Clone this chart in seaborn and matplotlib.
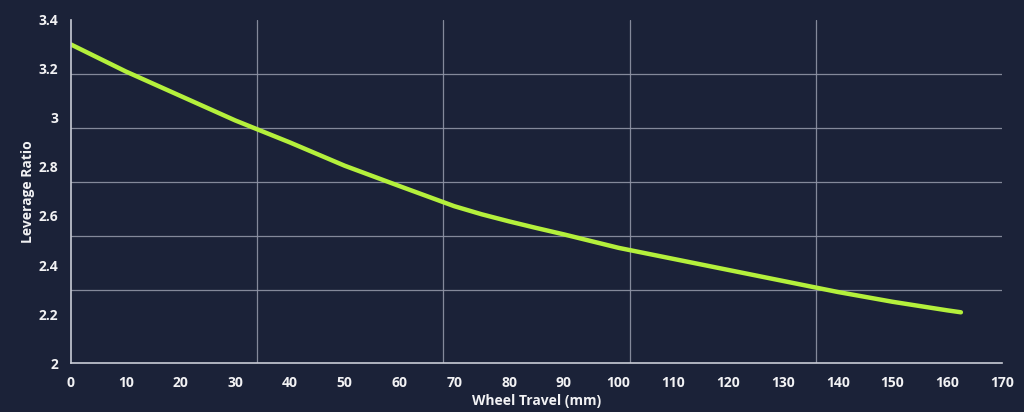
import numpy as np
import pandas as pd
import matplotlib
matplotlib.use("Agg")
import matplotlib.pyplot as plt
import seaborn as sns
from matplotlib.ticker import FixedLocator, FormatStrFormatter

# values
wheel_travel = [0, 10, 20, 30, 40, 50, 60, 65, 70, 75, 80, 85, 90, 100, 110, 120,
                130, 140, 150, 160, 162.5]
leverage = [3.30, 3.19, 3.09, 2.99, 2.90, 2.805, 2.722, 2.681, 2.640, 2.607, 2.578,
            2.551, 2.525, 2.47, 2.425, 2.38, 2.335, 2.29, 2.25, 2.215, 2.207]

x_ticks = [0, 10, 20, 30, 40, 50, 60, 70, 80, 90, 100, 110, 120, 130, 140, 150, 160, 170]
y_ticks = [2, 2.2, 2.4, 2.6, 2.8, 3, 3.2, 3.4]
# the grid in the reference does not sit on the tick labels
x_grid = [0, 34, 68, 102, 136, 170]
y_grid = [3.4, 3.18, 2.96, 2.74, 2.52, 2.30]

bg = "#1b2238"
line_col = "#b4f03c"
text_col = "#f2f2f4"

sns.set_style("dark")
plt.rcParams["font.family"] = ["Open Sans", "DejaVu Sans"]

df = pd.DataFrame({"travel": wheel_travel, "ratio": leverage})

fig = plt.figure(figsize=(10.24, 4.12), dpi=100, facecolor=bg)
ax = fig.add_axes([0.0693, 0.1189, 0.9092, 0.8326])
ax.set_facecolor(bg)

sns.lineplot(data=df, x="travel", y="ratio", color=line_col, linewidth=3.2,
             ax=ax, solid_capstyle="round", solid_joinstyle="round")

ax.set_xlim(0, 170)
ax.set_ylim(2, 3.4)

ax.xaxis.set_major_locator(FixedLocator(x_ticks))
ax.yaxis.set_major_locator(FixedLocator(y_ticks))
ax.yaxis.set_major_formatter(FormatStrFormatter("%g"))
ax.xaxis.set_minor_locator(FixedLocator(x_grid))
ax.yaxis.set_minor_locator(FixedLocator(y_grid))

ax.grid(False, which="major")
ax.grid(True, which="minor", color="#9095a6", linewidth=0.9, alpha=0.9)
ax.tick_params(which="both", length=0)
ax.tick_params(axis="x", pad=9, labelsize=10, labelcolor=text_col)
ax.tick_params(axis="y", pad=9, labelsize=10, labelcolor=text_col)
for lab in ax.get_xticklabels() + ax.get_yticklabels():
    lab.set_fontweight("bold")

for side in ["top", "right"]:
    ax.spines[side].set_visible(False)
for side in ["left", "bottom"]:
    ax.spines[side].set_visible(True)
    ax.spines[side].set_color("#c9ccd6")
    ax.spines[side].set_linewidth(1.2)

ax.set_xlabel("Wheel Travel (mm)", fontsize=10, fontweight="bold", color=text_col, labelpad=3)
ax.set_ylabel("Leverage Ratio", fontsize=10, fontweight="bold", color=text_col, labelpad=3)

fig.savefig("out.png", dpi=100, facecolor=bg)
